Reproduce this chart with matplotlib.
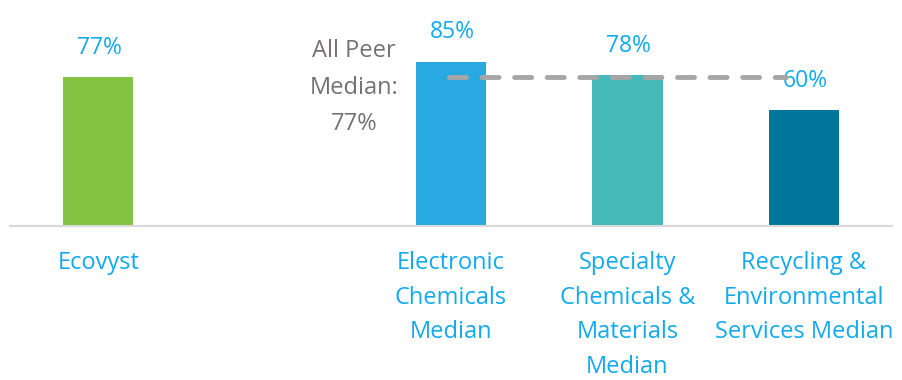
import matplotlib.pyplot as plt

# Datos
categorias = ['Ecovyst', 'Electronic\nChemicals\nMedian', 'Specialty\nChemicals &\nMaterials\nMedian',
              'Recycling &\nEnvironmental\nServices Median']
posiciones = [0, 2, 3, 4]
valores = [77, 85, 78, 60]
etiquetas = ['77%', '85%', '78%', '60%']
mediana_pares = 77
colores = ['#84C341', '#29A9E1', '#45B8B8', '#01769B']

azul_texto = '#12AAEE'
gris_texto = '#767171'

plt.rcParams['font.family'] = ['Open Sans', 'DejaVu Sans']

fig = plt.figure(figsize=(9.02, 3.8), dpi=100)
ax = fig.add_axes([10 / 902, 0.406, 882 / 902, 0.594])

ax.bar(posiciones, valores, width=0.4, color=colores, zorder=2)

# Etiquetas de valor
for x, v, t in zip(posiciones, valores, etiquetas):
    ax.annotate(t, (x, v), xytext=(1, 21), textcoords='offset points',
                ha='center', va='center', color=azul_texto, fontsize=16.5)

# Línea de la mediana de todos los pares
ax.plot([1.99, 3.9], [mediana_pares, mediana_pares], color='#A6A6A6', lw=3.5,
        linestyle=(0, (3.5, 3.2)), dash_capstyle='round', zorder=3)
ax.text(1.45, 71.5, 'All Peer\nMedian:\n' + str(mediana_pares) + '%', ha='center', va='center',
        color=gris_texto, fontsize=17, linespacing=1.68)

ax.set_xlim(-0.5, 4.5)
ax.set_ylim(0, 116.9)
ax.set_xticks(posiciones)
ax.set_xticklabels(categorias, color=azul_texto, fontsize=17, linespacing=1.6)
ax.tick_params(axis='x', length=0, pad=18)
ax.set_yticks([])
for s in ['top', 'left', 'right']:
    ax.spines[s].set_visible(False)
ax.spines['bottom'].set_color('#D9D9D9')
ax.spines['bottom'].set_linewidth(1.5)

plt.savefig('out.png', dpi=100)
